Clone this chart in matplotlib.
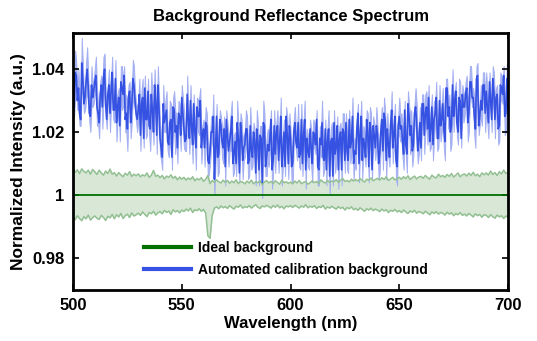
import matplotlib
matplotlib.use("Agg")
import matplotlib.pyplot as plt
import numpy as np

plt.rcParams['font.family'] = ['Liberation Sans', 'DejaVu Sans']
plt.rcParams['font.weight'] = 'bold'

# wavelength grids: 1 nm for the ideal background, 0.5 nm for the measured trace
wavelength = np.arange(500, 701)
wavelength_fine = np.linspace(500, 700, 401)

# automated calibration background (mean trace, 0.5 nm step)
blue = [
    1.035, 1.028, 1.039, 1.038, 1.030, 1.034, 1.026, 1.024, 1.042, 1.037, 1.029, 1.031, 1.036, 1.040, 1.034, 1.026, 1.025, 1.035, 1.031, 1.033,
    1.036, 1.038, 1.028, 1.026, 1.023, 1.032, 1.035, 1.028, 1.037, 1.040, 1.029, 1.024, 1.032, 1.035, 1.026, 1.033, 1.039, 1.027, 1.027, 1.037,
    1.023, 1.028, 1.031, 1.022, 1.036, 1.034, 1.032, 1.038, 1.024, 1.026, 1.021, 1.031, 1.033, 1.023, 1.028, 1.037, 1.035, 1.030, 1.026, 1.024,
    1.027, 1.032, 1.019, 1.029, 1.031, 1.018, 1.034, 1.024, 1.024, 1.033, 1.022, 1.021, 1.032, 1.027, 1.020, 1.035, 1.029, 1.019, 1.035, 1.028,
    1.018, 1.015, 1.012, 1.029, 1.023, 1.025, 1.027, 1.017, 1.016, 1.023, 1.024, 1.012, 1.028, 1.027, 1.020, 1.022, 1.015, 1.026, 1.025, 1.019,
    1.031, 1.026, 1.021, 1.017, 1.018, 1.032, 1.024, 1.018, 1.030, 1.022, 1.016, 1.029, 1.020, 1.015, 1.028, 1.025, 1.025, 1.030, 1.015, 1.019,
    1.021, 1.015, 1.023, 1.022, 1.011, 1.010, 1.014, 1.020, 1.020, 1.025, 1.005, 1.014, 1.025, 1.012, 1.013, 1.024, 1.022, 1.017, 1.015, 1.021,
    1.009, 1.024, 1.019, 1.014, 1.017, 1.020, 1.025, 1.010, 1.013, 1.017, 1.010, 1.023, 1.018, 1.007, 1.023, 1.019, 1.011, 1.015, 1.016, 1.021,
    1.021, 1.010, 1.011, 1.022, 1.014, 1.012, 1.020, 1.017, 1.007, 1.021, 1.017, 1.008, 1.019, 1.018, 1.004, 1.023, 1.022, 1.009, 1.012, 1.016,
    1.014, 1.018, 1.024, 1.008, 1.011, 1.022, 1.013, 1.020, 1.022, 1.011, 1.017, 1.025, 1.009, 1.014, 1.020, 1.009, 1.025, 1.019, 1.010, 1.022,
    1.018, 1.009, 1.010, 1.020, 1.023, 1.017, 1.015, 1.023, 1.012, 1.013, 1.024, 1.010, 1.019, 1.024, 1.008, 1.018, 1.014, 1.012, 1.021, 1.015,
    1.010, 1.020, 1.019, 1.016, 1.024, 1.009, 1.008, 1.018, 1.016, 1.023, 1.012, 1.011, 1.021, 1.008, 1.017, 1.021, 1.006, 1.017, 1.018, 1.006,
    1.023, 1.013, 1.015, 1.022, 1.008, 1.018, 1.020, 1.008, 1.021, 1.020, 1.011, 1.023, 1.014, 1.011, 1.024, 1.015, 1.017, 1.025, 1.010, 1.014,
    1.013, 1.021, 1.026, 1.010, 1.019, 1.025, 1.011, 1.018, 1.016, 1.012, 1.024, 1.020, 1.009, 1.023, 1.020, 1.008, 1.022, 1.019, 1.015, 1.022,
    1.019, 1.010, 1.013, 1.020, 1.024, 1.014, 1.026, 1.024, 1.011, 1.021, 1.016, 1.012, 1.022, 1.027, 1.015, 1.019, 1.025, 1.011, 1.009, 1.022,
    1.025, 1.021, 1.022, 1.017, 1.013, 1.027, 1.016, 1.013, 1.029, 1.025, 1.019, 1.022, 1.014, 1.016, 1.026, 1.028, 1.023, 1.014, 1.017, 1.023,
    1.015, 1.029, 1.029, 1.019, 1.026, 1.028, 1.021, 1.031, 1.017, 1.021, 1.028, 1.016, 1.024, 1.026, 1.031, 1.018, 1.018, 1.030, 1.022, 1.024,
    1.029, 1.021, 1.017, 1.034, 1.034, 1.025, 1.028, 1.020, 1.022, 1.035, 1.025, 1.030, 1.033, 1.023, 1.020, 1.031, 1.030, 1.018, 1.032, 1.028,
    1.028, 1.032, 1.034, 1.023, 1.026, 1.036, 1.036, 1.031, 1.031, 1.025, 1.021, 1.037, 1.038, 1.022, 1.025, 1.030, 1.027, 1.035, 1.035, 1.026,
    1.033, 1.028, 1.023, 1.036, 1.030, 1.024, 1.037, 1.033, 1.024, 1.031, 1.032, 1.021, 1.022, 1.035, 1.034, 1.032, 1.038, 1.025, 1.026, 1.037,
    1.027,
]

# half width of the light blue band, in units of 0.001
blue_err_milli = [
    5, 3, 7, 4, 3, 6, 4, 2, 8, 5, 3, 4, 6, 7, 4, 3, 5, 6, 3, 4,
    4, 6, 6, 3, 5, 4, 3, 7, 7, 5, 4, 3, 3, 5, 6, 4, 5, 3, 4, 6,
    6, 4, 3, 5, 5, 7, 4, 3, 4, 6, 7, 4, 3, 5, 5, 6, 6, 3, 3, 4,
    3, 5, 5, 4, 6, 3, 4, 6, 5, 4, 3, 7, 7, 4, 4, 5, 3, 6, 6, 4,
    5, 4, 4, 6, 3, 5, 6, 3, 4, 7, 5, 4, 3, 6, 7, 3, 5, 4, 4, 5,
    4, 5, 6, 3, 4, 6, 3, 5, 5, 4, 6, 3, 4, 7, 3, 5, 6, 4, 5, 3,
    3, 6, 5, 4, 6, 3, 4, 5, 3, 7, 5, 4, 4, 6, 6, 3, 3, 5, 5, 4,
    6, 3, 4, 5, 3, 6, 5, 4, 6, 3, 4, 7, 5, 3, 3, 5, 6, 4, 4, 6,
    4, 5, 5, 6, 6, 3, 3, 4, 4, 6, 6, 5, 3, 4, 5, 7, 4, 3, 6, 5,
    5, 4, 3, 6, 4, 5, 6, 3, 5, 4, 3, 6, 6, 5, 4, 3, 3, 6, 5, 4,
    3, 5, 6, 4, 5, 3, 4, 6, 3, 5, 5, 4, 4, 6, 6, 3, 5, 4, 3, 6,
    6, 4, 4, 3, 3, 6, 5, 4, 4, 7, 6, 3, 3, 5, 4, 6, 6, 4, 5, 3,
    4, 6, 5, 3, 6, 4, 3, 5, 5, 6, 4, 3, 6, 4, 3, 5, 4, 6, 5, 4,
    5, 3, 3, 6, 4, 5, 6, 4, 4, 3, 3, 6, 5, 5, 6, 3, 3, 4, 4, 6,
    3, 5, 6, 4, 4, 6, 5, 3, 6, 5, 4, 3, 3, 6, 5, 4, 4, 6, 6, 3,
    6, 4, 4, 5, 5, 3, 3, 6, 4, 4, 6, 5, 5, 3, 3, 6, 6, 4, 4, 5,
    4, 3, 3, 6, 6, 5, 5, 4, 3, 6, 4, 5, 6, 3, 5, 4, 3, 5, 5, 4,
    5, 6, 6, 3, 3, 4, 4, 6, 6, 5, 5, 3, 3, 4, 4, 6, 6, 3, 3, 5,
    3, 4, 4, 6, 6, 5, 5, 3, 3, 6, 6, 4, 4, 3, 3, 5, 5, 4, 4, 6,
    6, 5, 5, 3, 3, 4, 4, 6, 6, 3, 3, 5, 5, 4, 4, 3, 3, 6, 6, 5,
    4,
]

# envelope of the ideal background (1 nm step)
green_hi = [
    1.0085, 1.0072, 1.0080, 1.0068, 1.0083, 1.0075, 1.0070, 1.0079, 1.0066, 1.0081,
    1.0074, 1.0065, 1.0079, 1.0070, 1.0063, 1.0076, 1.0068, 1.0082, 1.0066, 1.0071,
    1.0060, 1.0071, 1.0064, 1.0058, 1.0069, 1.0063, 1.0074, 1.0059, 1.0066, 1.0061,
    1.0067, 1.0058, 1.0064, 1.0060, 1.0070, 1.0056, 1.0062, 1.0078, 1.0059, 1.0063,
    1.0055, 1.0062, 1.0051, 1.0060, 1.0056, 1.0064, 1.0053, 1.0059, 1.0048, 1.0057,
    1.0050, 1.0056, 1.0047, 1.0054, 1.0049, 1.0058, 1.0045, 1.0052, 1.0048, 1.0055,
    1.0043, 1.0050, 1.0062, 1.0036, 1.0046, 1.0040, 1.0048, 1.0042, 1.0038, 1.0047,
    1.0040, 1.0046, 1.0037, 1.0044, 1.0039, 1.0048, 1.0036, 1.0043, 1.0041, 1.0035,
    1.0044, 1.0038, 1.0047, 1.0035, 1.0042, 1.0039, 1.0045, 1.0033, 1.0041, 1.0046,
    1.0038, 1.0043, 1.0036, 1.0045, 1.0040, 1.0034, 1.0047, 1.0039, 1.0042, 1.0037,
    1.0041, 1.0035, 1.0044, 1.0038, 1.0046, 1.0036, 1.0040, 1.0043, 1.0034, 1.0039,
    1.0045, 1.0039, 1.0043, 1.0036, 1.0048, 1.0041, 1.0038, 1.0046, 1.0040, 1.0044,
    1.0042, 1.0049, 1.0040, 1.0047, 1.0052, 1.0043, 1.0046, 1.0041, 1.0050, 1.0044,
    1.0049, 1.0044, 1.0052, 1.0046, 1.0041, 1.0050, 1.0047, 1.0054, 1.0045, 1.0049,
    1.0053, 1.0047, 1.0055, 1.0049, 1.0058, 1.0046, 1.0051, 1.0056, 1.0048, 1.0052,
    1.0056, 1.0050, 1.0058, 1.0052, 1.0061, 1.0049, 1.0055, 1.0060, 1.0051, 1.0057,
    1.0059, 1.0053, 1.0062, 1.0055, 1.0050, 1.0063, 1.0057, 1.0054, 1.0066, 1.0058,
    1.0062, 1.0056, 1.0065, 1.0059, 1.0068, 1.0057, 1.0063, 1.0070, 1.0058, 1.0064,
    1.0067, 1.0060, 1.0069, 1.0062, 1.0072, 1.0061, 1.0066, 1.0058, 1.0070, 1.0064,
    1.0070, 1.0063, 1.0076, 1.0065, 1.0071, 1.0062, 1.0074, 1.0067, 1.0079, 1.0068,
    1.0072,
]

green_lo = [
    0.9930, 0.9921, 0.9934, 0.9925, 0.9918, 0.9931, 0.9924, 0.9936, 0.9920, 0.9928,
    0.9933, 0.9926, 0.9922, 0.9935, 0.9928, 0.9919, 0.9932, 0.9927, 0.9938, 0.9924,
    0.9937, 0.9930, 0.9941, 0.9925, 0.9934, 0.9939, 0.9928, 0.9943, 0.9933, 0.9937,
    0.9942, 0.9935, 0.9946, 0.9938, 0.9931, 0.9944, 0.9940, 0.9948, 0.9936, 0.9943,
    0.9947, 0.9940, 0.9951, 0.9944, 0.9949, 0.9938, 0.9953, 0.9946, 0.9950, 0.9943,
    0.9952, 0.9947, 0.9955, 0.9949, 0.9958, 0.9944, 0.9953, 0.9950, 0.9956, 0.9948,
    0.9954, 0.9942, 0.9870, 0.9862, 0.9935, 0.9958, 0.9962, 0.9956, 0.9965, 0.9959,
    0.9963, 0.9957, 0.9966, 0.9960, 0.9955, 0.9964, 0.9961, 0.9968, 0.9958, 0.9963,
    0.9960, 0.9966, 0.9958, 0.9964, 0.9969, 0.9961, 0.9957, 0.9965, 0.9962, 0.9967,
    0.9963, 0.9958, 0.9966, 0.9961, 0.9968, 0.9959, 0.9964, 0.9956, 0.9965, 0.9962,
    0.9966, 0.9960, 0.9967, 0.9963, 0.9958, 0.9965, 0.9961, 0.9969, 0.9959, 0.9964,
    0.9961, 0.9966, 0.9957, 0.9963, 0.9960, 0.9967, 0.9955, 0.9962, 0.9958, 0.9964,
    0.9959, 0.9955, 0.9963, 0.9957, 0.9961, 0.9952, 0.9960, 0.9956, 0.9962, 0.9953,
    0.9957, 0.9951, 0.9959, 0.9954, 0.9948, 0.9956, 0.9952, 0.9958, 0.9950, 0.9955,
    0.9952, 0.9947, 0.9955, 0.9949, 0.9953, 0.9944, 0.9951, 0.9948, 0.9954, 0.9946,
    0.9950, 0.9944, 0.9952, 0.9946, 0.9941, 0.9949, 0.9945, 0.9951, 0.9942, 0.9947,
    0.9945, 0.9940, 0.9948, 0.9943, 0.9937, 0.9946, 0.9941, 0.9947, 0.9939, 0.9944,
    0.9942, 0.9936, 0.9945, 0.9939, 0.9943, 0.9934, 0.9941, 0.9937, 0.9944, 0.9935,
    0.9939, 0.9933, 0.9941, 0.9936, 0.9930, 0.9940, 0.9934, 0.9938, 0.9929, 0.9937,
    0.9935, 0.9928, 0.9937, 0.9931, 0.9926, 0.9936, 0.9930, 0.9934, 0.9925, 0.9933,
    0.9929,
]

ideal = [1.0] * len(wavelength)

yticks = [0.98, 1.0, 1.02, 1.04]
ytick_labels = ["0.98", "1", "1.02", "1.04"]
xticks = [500, 550, 600, 650, 700]

blue = np.array(blue)
blue_err = np.array(blue_err_milli) * 0.001

fig = plt.figure(figsize=(5.37, 3.41), dpi=100)
ax = fig.add_axes([0.136, 0.15, 0.81, 0.753])

# green shaded band for the ideal background
ax.fill_between(wavelength, green_lo, green_hi, color='#d8e7d6', lw=0)
ax.plot(wavelength, green_hi, color='#92c092', lw=1.1)
ax.plot(wavelength, green_lo, color='#92c092', lw=1.1)
ax.plot(wavelength, ideal, color='#007000', lw=1.3, label='Ideal background')

# blue trace with its light band (band edges drawn too)
ax.fill_between(wavelength_fine, blue - blue_err, blue + blue_err,
                facecolor='#a7b3f3', edgecolor='#a3aff2', lw=0.7)
ax.plot(wavelength_fine, blue, color='#3552e2', lw=1.2, label='Automated calibration background')

ax.set_xlim(500, 700)
ax.set_ylim(0.9698, 1.0515)
ax.set_xticks(xticks)
ax.set_yticks(yticks)
ax.set_yticklabels(ytick_labels)
ax.tick_params(direction='in', top=True, right=True, length=4, width=1.2,
               labelsize=12, pad=6)
for s in ax.spines.values():
    s.set_linewidth(2)

ax.set_title('Background Reflectance Spectrum', fontsize=12, fontweight='bold', pad=9)
ax.set_xlabel('Wavelength (nm)', fontsize=12, fontweight='bold', labelpad=2)
ax.set_ylabel('Normalized Intensity (a.u.)', fontsize=12.5, fontweight='bold', labelpad=5)

leg = ax.legend(loc='lower left', bbox_to_anchor=(0.135, 0.0), frameon=False,
                fontsize=10, handlelength=3.4, handletextpad=0.45, labelspacing=0.6)
for line in leg.get_lines():
    line.set_linewidth(3)

fig.savefig('out.png', dpi=100)
